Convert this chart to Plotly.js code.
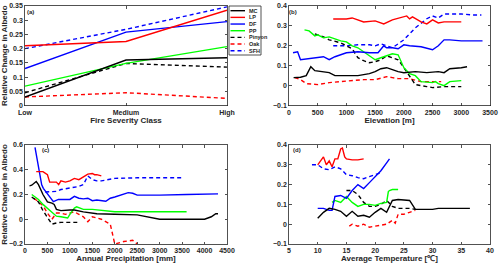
<!DOCTYPE html>
<html><head><meta charset="utf-8">
<script src="https://cdn.plot.ly/plotly-3.0.1.min.js"></script>
<style>html,body{margin:0;padding:0;background:#fff}#c{width:500px;height:266px}</style>
</head><body><div id="c"></div>
<script>
// ---- data ----
const seriesNames = ['MC','LP','DF','PP','Pinyon','Oak','SFH'];
const severity = ['Low','Medium','High'];
const sev_MC = [0.03,0.16,0.168];
const sev_LP = [0.21,0.225,0.335];
const sev_DF = [0.13,0.258,0.295];
const sev_PP = [0.068,0.148,0.207];
const sev_Pinyon = [0.045,0.148,0.135];
const sev_Oak = [0.03,0.045,0.025];
const sev_SFH = [0.2,0.268,0.347];

const elev_MC_x = [80,200,300,380,450,600,700,800,1000,1200,1400,1500,1600,1700,1800,1900,2000,2200,2400,2600,2700,2800,3000,3100];
const elev_MC_y = [0.04,0.042,0.05,0.095,0.075,0.07,0.065,0.05,0.05,0.05,0.06,0.07,0.085,0.09,0.08,0.07,0.065,0.07,0.065,0.07,0.065,0.085,0.09,0.095];
const elev_LP_x = [770,1000,1100,1300,1500,1650,1800,2000,2050,2100,2150,2300,2400,2500,2600,2700,3000];
const elev_LP_y = [0.335,0.335,0.34,0.32,0.325,0.31,0.33,0.345,0.35,0.335,0.345,0.32,0.31,0.33,0.315,0.32,0.32];
const elev_DF_x = [70,150,200,500,600,700,800,1000,1200,1400,1550,1650,1700,1800,1900,2000,2100,2300,2500,2600,2700,2800,3000,3370];
const elev_DF_y = [0.165,0.17,0.13,0.14,0.145,0.13,0.145,0.165,0.17,0.165,0.165,0.2,0.19,0.19,0.185,0.205,0.2,0.195,0.18,0.2,0.23,0.23,0.225,0.225];
const elev_PP_x = [270,350,450,500,600,700,800,900,1000,1100,1200,1300,1400,1500,1600,1700,1800,1900,2000,2100,2200,2300,2500,2550,2600,2700,2800,3000];
const elev_PP_y = [0.28,0.275,0.25,0.255,0.24,0.245,0.235,0.225,0.22,0.2,0.19,0.17,0.15,0.13,0.14,0.15,0.16,0.155,0.09,0.06,0.05,0.02,0.015,0.02,0.01,0.0,0.02,0.025];
const elev_Pinyon_x = [450,600,700,900,1000,1100,1200,1300,1400,1500,1600,1700,1800,1900,2000,2100,2200,2400,2500,2700,3000];
const elev_Pinyon_y = [0.26,0.245,0.23,0.215,0.2,0.185,0.14,0.125,0.115,0.12,0.13,0.15,0.14,0.13,0.09,0.05,0.005,-0.005,-0.01,-0.005,-0.005];
const elev_Oak_x = [100,200,300,500,700,900,1100,1300,1500,1700,1800,1900,2100,2300,2500,2650];
const elev_Oak_y = [0.04,0.03,0.01,0.005,0.015,0.02,0.025,0.03,0.03,0.045,0.04,0.035,0.035,0.02,0.02,0.02];
const elev_SFH_x = [770,1000,1200,1400,1500,1600,1700,1800,2000,2200,2400,2500,2600,2700,2800,3000,3200,3350];
const elev_SFH_y = [0.2,0.2,0.205,0.205,0.2,0.21,0.2,0.19,0.23,0.29,0.336,0.35,0.34,0.36,0.36,0.36,0.355,0.355];

const prec_MC_x = [100,150,250,300,400,500,600,650,700,800,1000,1100,1300,1500,1600,2000,2500,3000,3500,4000,4150,4250,4300];
const prec_MC_y = [0.27,0.275,0.305,0.28,0.2,0.14,0.13,0.12,0.08,0.07,0.075,0.075,0.06,0.05,0.045,0.04,0.035,0.0,0.0,0.0,0.02,0.045,0.045];
const prec_LP_x = [250,400,500,550,700,750,800,900,1000,1100,1200,1300,1400,1500,1550,1600,1700];
const prec_LP_y = [0.385,0.385,0.36,0.3,0.3,0.28,0.31,0.3,0.31,0.33,0.32,0.34,0.365,0.37,0.36,0.36,0.35];
const prec_DF_x = [223,372,409,558,632,744,1000,1100,1200,1300,1400,1500,1600,1800,1900,2000,2200,2300,2400,2500,3000,3500,3600,4300];
const prec_DF_y = [0.58,0.278,0.25,0.18,0.143,0.16,0.16,0.185,0.17,0.165,0.17,0.15,0.155,0.145,0.17,0.18,0.2,0.215,0.21,0.195,0.195,0.195,0.2,0.205];
const prec_PP_x = [150,300,400,500,600,700,800,950,1000,1100,1150,1300,1500,1800,2000,3600];
const prec_PP_y = [0.2,0.16,0.12,0.09,0.06,0.025,0.02,0.01,0.04,0.09,0.1,0.08,0.08,0.07,0.06,0.06];
const prec_Pinyon_x = [150,300,400,500,600,700,800,1000,1200];
const prec_Pinyon_y = [0.18,0.14,0.07,0.02,-0.04,-0.03,-0.025,-0.025,-0.025];
const prec_Oak_x = [200,300,400,500,600,700,800,900,1100,1200,1300,1400,1500,1700,1900,2000,2200,2400,2500];
const prec_Oak_y = [0.17,0.14,0.11,0.05,0.0,0.05,0.05,0.04,0.06,0.04,0.02,-0.02,0.02,0.0,-0.04,-0.2,-0.18,-0.17,-0.2];
const prec_SFH_x = [450,600,700,800,1000,1200,1300,1400,1500,1600,1700,2000,2500,3000,3500];
const prec_SFH_y = [0.22,0.22,0.225,0.24,0.25,0.265,0.28,0.35,0.32,0.31,0.31,0.33,0.335,0.335,0.335];

const temp_MC_x = [10,11,12,13,14,15,16,17,18,19,20,21,22,23,24,26,27,28,30,31,36.5];
const temp_MC_y = [0.03,0.06,0.08,0.075,0.065,0.04,0.065,0.04,0.045,0.035,0.06,0.08,0.06,0.12,0.125,0.12,0.075,0.075,0.075,0.08,0.08];
const temp_LP_x = [10,10.5,11,11.5,12,12.5,13,13.5,14,14.3,14.7,15,16,17,18];
const temp_LP_y = [0.3,0.32,0.34,0.3,0.32,0.29,0.33,0.33,0.38,0.385,0.34,0.33,0.325,0.325,0.33];
const temp_DF_x = [10,11,12,12.5,13,14,15,16,17,18,19,20,21,22,22.5];
const temp_DF_y = [0.08,0.08,0.07,0.07,0.14,0.145,0.13,0.17,0.2,0.18,0.21,0.24,0.27,0.31,0.33];
const temp_PP_x = [12.5,13,14,15,16,17,18,19,20,21,22,22.3,22.5,23,24];
const temp_PP_y = [0.11,0.12,0.11,0.14,0.11,0.09,0.1,0.1,0.095,0.105,0.11,0.165,0.17,0.175,0.175];
const temp_Pinyon_x = [15,16,17,18,19,20,21,22,23,24,25,26,27];
const temp_Pinyon_y = [0.17,0.17,0.15,0.11,0.09,0.09,0.1,0.12,0.09,0.08,0.08,0.08,0.075];
const temp_Oak_x = [15.5,16,17,18,19,20,21,22,23,23.5,24,25,26,27];
const temp_Oak_y = [-0.01,0.0,-0.01,0.0,-0.015,-0.01,-0.005,0.0,0.02,0.005,0.05,0.05,0.06,0.07];
const temp_SFH_x = [9,10,11,12,13,14,15,16,17,18,19,20,21];
const temp_SFH_y = [0.3,0.3,0.28,0.275,0.29,0.28,0.25,0.245,0.235,0.23,0.24,0.25,0.26];

// ---- styles ----
const colors = {MC:'#000000',LP:'#ff0000',DF:'#0000ff',PP:'#00ff00',Pinyon:'#000000',Oak:'#ff0000',SFH:'#0000ff'};
const dashes = {MC:'solid',LP:'solid',DF:'solid',PP:'solid',Pinyon:'4px,3px',Oak:'4px,3px',SFH:'4px,3px'};

const sevData = {MC:sev_MC,LP:sev_LP,DF:sev_DF,PP:sev_PP,Pinyon:sev_Pinyon,Oak:sev_Oak,SFH:sev_SFH};
const elevData = {MC:[elev_MC_x,elev_MC_y],LP:[elev_LP_x,elev_LP_y],DF:[elev_DF_x,elev_DF_y],PP:[elev_PP_x,elev_PP_y],Pinyon:[elev_Pinyon_x,elev_Pinyon_y],Oak:[elev_Oak_x,elev_Oak_y],SFH:[elev_SFH_x,elev_SFH_y]};
const precData = {MC:[prec_MC_x,prec_MC_y],LP:[prec_LP_x,prec_LP_y],DF:[prec_DF_x,prec_DF_y],PP:[prec_PP_x,prec_PP_y],Pinyon:[prec_Pinyon_x,prec_Pinyon_y],Oak:[prec_Oak_x,prec_Oak_y],SFH:[prec_SFH_x,prec_SFH_y]};
const tempData = {MC:[temp_MC_x,temp_MC_y],LP:[temp_LP_x,temp_LP_y],DF:[temp_DF_x,temp_DF_y],PP:[temp_PP_x,temp_PP_y],Pinyon:[temp_Pinyon_x,temp_Pinyon_y],Oak:[temp_Oak_x,temp_Oak_y],SFH:[temp_SFH_x,temp_SFH_y]};

const traces = [];
const order = ['SFH','Oak','Pinyon','PP','DF','LP','MC'];
order.forEach(n => {
  const line = {color:colors[n], width:1.4, dash:dashes[n]};
  traces.push({x:[0,1,2], y:sevData[n], mode:'lines', line, xaxis:'x', yaxis:'y', name:n, showlegend:false});
  traces.push({x:elevData[n][0], y:elevData[n][1], mode:'lines', line, xaxis:'x2', yaxis:'y2', showlegend:false});
  traces.push({x:precData[n][0], y:precData[n][1], mode:'lines', line, xaxis:'x3', yaxis:'y3', showlegend:false});
  traces.push({x:tempData[n][0], y:tempData[n][1], mode:'lines', line, xaxis:'x4', yaxis:'y4', showlegend:false});
});

const W=500, H=266;
const px = v => v/W, py = v => 1 - v/H;
const F = {family:'Liberation Sans, Arial, sans-serif', size:7, color:'#262626', weight:'bold'};
const TF = {family:'Liberation Sans, Arial, sans-serif', size:8, color:'#262626', weight:'bold'};
function ax(domain, range, extra){
  return Object.assign({domain, range, showgrid:false, zeroline:false, showline:true, mirror:'ticks',
    linecolor:'#262626', linewidth:0.8, ticks:'inside', ticklen:2.5, tickwidth:0.8, tickcolor:'#262626',
    tickfont:F, fixedrange:true}, extra||{});
}
const xdA=[px(25),px(227)], xdB=[px(289),px(490)];
const ydTop=[py(105.5),py(6)], ydBot=[py(244),py(145)];

const layout = {
  width:W, height:H, margin:{l:0,r:0,t:0,b:0}, paper_bgcolor:'#fff', plot_bgcolor:'#fff', showlegend:false,
  xaxis: ax(xdA,[0,2],{anchor:'y', tickvals:[0,1,2], ticktext:severity, title:{text:'Fire Severity Class', font:TF, standoff:0}}),
  yaxis: ax(ydTop,[0,0.35],{anchor:'x', dtick:0.05, tick0:0, title:{text:'Relative Change in Albedo', font:TF, standoff:3}}),
  xaxis2: ax(xdB,[0,3500],{anchor:'y2', dtick:500, tick0:0, title:{text:'Elevation [m]', font:TF, standoff:0}}),
  yaxis2: ax(ydTop,[-0.1,0.4],{anchor:'x2', dtick:0.1, tick0:0}),
  xaxis3: ax(xdA,[0,4500],{anchor:'y3', dtick:500, tick0:0, title:{text:'Annual Precipitation [mm]', font:TF, standoff:0}}),
  yaxis3: ax(ydBot,[-0.2,0.6],{anchor:'x3', dtick:0.2, tick0:0, title:{text:'Relative Change in Albedo', font:TF, standoff:3}}),
  xaxis4: ax(xdB,[5,40],{anchor:'y4', dtick:5, tick0:5, title:{text:'Average Temperature [℃]', font:TF, standoff:0}}),
  yaxis4: ax(ydBot,[-0.1,0.4],{anchor:'x4', dtick:0.1, tick0:0}),
  annotations:[], shapes:[]
};
const labF = {family:'Liberation Sans, Arial, sans-serif', size:6, color:'#262626', weight:'bold'};
[['(a)',30,12],['(b)',293,12],['(c)',45,150],['(d)',297,150]].forEach(a=>{
  layout.annotations.push({text:a[0], xref:'paper', yref:'paper', x:px(a[1]), y:py(a[2]), showarrow:false, xanchor:'center', yanchor:'middle', font:labF});
});
// legend box
layout.shapes.push({type:'rect', xref:'paper', yref:'paper', x0:px(229), x1:px(261), y0:py(55), y1:py(6), line:{color:'#262626', width:0.8}, fillcolor:'#fff'});
seriesNames.forEach((n,i)=>{
  const yy = 10.7 + i*6.67;
  layout.shapes.push({type:'line', xref:'paper', yref:'paper', x0:px(230.5), x1:px(245), y0:py(yy), y1:py(yy), line:{color:colors[n], width:1.4, dash:dashes[n]}});
  layout.annotations.push({text:n, xref:'paper', yref:'paper', x:px(246.5), y:py(yy), showarrow:false, xanchor:'left', yanchor:'middle', font:{family:'Liberation Sans, Arial, sans-serif', size:5.5, color:'#262626', weight:'bold'}});
});
Plotly.newPlot('c', traces, layout, {staticPlot:true, displayModeBar:false});
</script></body></html>
